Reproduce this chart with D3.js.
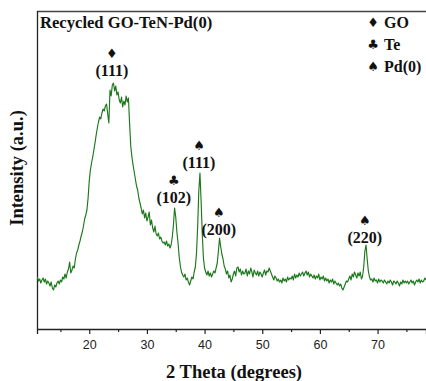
<!DOCTYPE html>
<html><head><meta charset="utf-8">
<script src="https://cdn.jsdelivr.net/npm/d3@7"></script>
<style>body{margin:0;background:#fff;}svg{display:block;}</style>
</head><body>
<script>
// ---- data ----
const twoThetaStart = 11.0;
const twoThetaStep = 0.2;
const intensity = [
  52,48,50,46,49,51,47,50,45,48,
  46,43,47,41,39,44,42,46,48,45,
  49,47,52,50,55,51,57,60,67,56,
  59,63,61,70,76,79,84,88,93,97,
  103,110,114,119,131,148,159,166,172,179,
  186,194,201,207,212,210,216,220,218,223,
  225,215,206,239,233,244,246,238,243,234,
  237,229,226,232,222,228,224,233,227,231,
  205,183,172,164,157,150,143,139,131,126,
  121,115,119,111,116,108,112,117,104,109,
  101,97,103,95,93,96,90,92,88,86,
  87,84,88,83,85,81,84,92,104,121,
  112,97,86,72,63,57,54,52,55,49,
  51,47,44,48,52,50,57,62,76,102,
  138,156,128,95,71,61,57,54,58,53,
  56,52,55,58,56,61,66,78,91,82,
  75,70,63,60,55,58,51,54,47,50,
  55,58,53,61,62,57,60,54,58,55,
  56,60,53,58,55,61,57,52,59,56,
  54,58,53,57,55,52,56,59,54,58,
  57,61,58,55,52,49,53,51,48,50,
  47,49,46,51,48,50,47,52,49,51,
  50,53,49,55,51,54,52,56,53,55,
  57,53,56,58,54,57,52,55,53,51,
  54,50,53,51,55,49,52,50,53,48,
  51,48,50,46,49,47,50,45,48,46,
  44,46,43,45,41,39,42,45,48,47,
  50,53,49,55,52,57,54,51,56,53,
  57,50,53,62,78,84,70,58,52,49,
  50,47,51,48,49,46,50,47,49,48,
  46,49,47,45,48,46,49,47,44,48,
  47,45,48,46,43,47,45,49,46,48,
  46,48,45,47,49,46,48,44,47,49,
  47,50,46,49,47,48,51,49
];
const xTicks = [20,30,40,50,60,70];
const xMinorTicks = [15,25,35,45,55,65,75];
const peakLabels = ["(111)","(102)","(111)","(200)","(220)"];
const peakSymbols = ["\u2666","\u2663","\u2660","\u2660","\u2660"];
const peakPositions = [24.1, 34.85, 39.2, 42.65, 67.95];
const peakLabelHeights = [253, 126, 161, 94, 86];
const legendSymbols = ["\u2666","\u2663","\u2660"];
const legendNames = ["GO","Te","Pd(0)"];
const titleText = "Recycled GO-TeN-Pd(0)";

(function(){
// ---- layout ----
const W = 426, H = 381;
const mLeft = 37, mTop = 11, mBottom = 329, mRight = 426;
const serif = "'Liberation Serif','Times New Roman',serif";
const sans = "'Liberation Sans',Arial,sans-serif";

const data = intensity.map((v,i)=>({x: twoThetaStart + i*twoThetaStep, y: v}));

const x = d3.scaleLinear().domain([10.94, 78.4]).range([mLeft, mRight]);
const y = d3.scaleLinear().domain([0, 318]).range([mBottom, mTop]);

const svg = d3.select("body").append("svg").attr("width", W).attr("height", H);

svg.append("defs").append("clipPath").attr("id","clip")
  .append("rect").attr("x",mLeft).attr("y",mTop).attr("width",mRight-mLeft).attr("height",mBottom-mTop);

// frame
svg.append("line").attr("x1",mLeft).attr("x2",W).attr("y1",mTop+0.5).attr("y2",mTop+0.5)
  .attr("stroke","#444").attr("stroke-width",1.3);
svg.append("line").attr("x1",mLeft+0.5).attr("x2",mLeft+0.5).attr("y1",mTop).attr("y2",mBottom)
  .attr("stroke","#222").attr("stroke-width",1.3);

// line
svg.append("path").datum(data)
  .attr("clip-path","url(#clip)")
  .attr("fill","none").attr("stroke","#1b781b").attr("stroke-width",1.15)
  .attr("stroke-linejoin","round")
  .attr("d", d3.line().x(d=>x(d.x)).y(d=>y(d.y)));

// x axis
const xAxis = svg.append("g").attr("transform",`translate(0,${mBottom})`)
  .call(d3.axisBottom(x).tickValues(xTicks).tickSize(5).tickPadding(6).tickFormat(d3.format("d")));
xAxis.select(".domain").attr("stroke","#222").attr("stroke-width",1.3);
xAxis.selectAll(".tick line").attr("stroke","#222").attr("stroke-width",1.2);
xAxis.selectAll(".tick text").attr("font-family",sans).attr("font-size",12.5).attr("fill","#222");
const xMinor = svg.append("g").attr("transform",`translate(0,${mBottom})`)
  .call(d3.axisBottom(x).tickValues(xMinorTicks).tickSize(3).tickFormat(""));
xMinor.select(".domain").remove();
xMinor.selectAll(".tick line").attr("stroke","#222").attr("stroke-width",1.2);

// axis titles
svg.append("text").attr("x",234).attr("y",378).attr("text-anchor","middle")
  .attr("font-family",serif).attr("font-weight","bold").attr("font-size",18.5).attr("fill","#111")
  .text("2 Theta (degrees)");
svg.append("text").attr("transform","translate(23,168) rotate(-90)").attr("text-anchor","middle")
  .attr("font-family",serif).attr("font-weight","bold").attr("font-size",18.5).attr("fill","#111")
  .text("Intensity (a.u.)");

// title
svg.append("text").attr("x",40).attr("y",28)
  .attr("font-family",serif).attr("font-weight","bold").attr("font-size",16.6).attr("fill","#111")
  .text(titleText);

// legend
legendNames.forEach((n,i)=>{
  const yy = 28 + i*22;
  svg.append("text").attr("x",373).attr("y",yy-1).attr("text-anchor","middle")
    .attr("font-family","'DejaVu Sans',sans-serif").attr("font-size",13).attr("fill","#111")
    .text(legendSymbols[i]);
  svg.append("text").attr("x",384).attr("y",yy)
    .attr("font-family",serif).attr("font-weight","bold").attr("font-size",16).attr("fill","#111")
    .text(n);
});

// peak annotations
peakPositions.forEach((p,i)=>{
  const px = x(p) - 1;
  const py = y(peakLabelHeights[i]);
  svg.append("text").attr("x",px).attr("y",py).attr("text-anchor","middle")
    .attr("font-family",serif).attr("font-weight","bold").attr("font-size",16).attr("fill","#111")
    .text(peakLabels[i]);
  svg.append("text").attr("x",px).attr("y",py-18).attr("text-anchor","middle")
    .attr("font-family","'DejaVu Sans',sans-serif").attr("font-size",13).attr("fill","#111")
    .text(peakSymbols[i]);
});
})();
</script>
</body></html>
